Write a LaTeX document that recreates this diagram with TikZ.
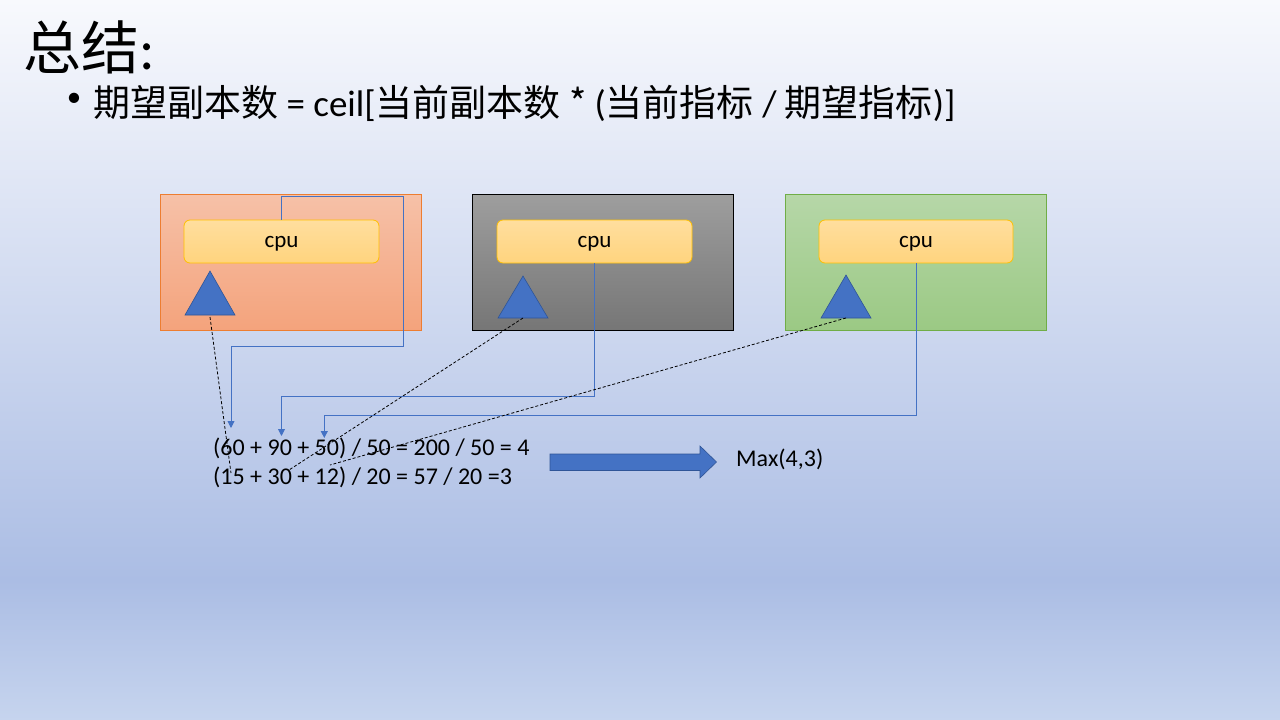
\documentclass[tikz,border=0pt]{standalone}
\usepackage{fontspec}
\setmainfont{Carlito}
\newfontfamily\cjk{Noto Sans CJK SC}
\usetikzlibrary{arrows.meta}
\definecolor{bgtop}{RGB}{248,249,253}
\definecolor{bgblue}{RGB}{171,189,228}
\definecolor{bgbot}{RGB}{198,212,238}
\definecolor{orTop}{RGB}{246,193,168}
\definecolor{orBot}{RGB}{244,163,124}
\definecolor{orLine}{RGB}{237,125,49}
\definecolor{grTop}{RGB}{158,158,158}
\definecolor{grBot}{RGB}{118,118,118}
\definecolor{gnTop}{RGB}{182,215,168}
\definecolor{gnBot}{RGB}{155,201,132}
\definecolor{gnLine}{RGB}{112,173,71}
\definecolor{cpuTop}{RGB}{255,222,158}
\definecolor{cpuBot}{RGB}{255,212,126}
\definecolor{cpuLine}{RGB}{255,192,0}
\definecolor{accent}{RGB}{68,114,196}
\definecolor{accentDark}{RGB}{47,85,151}
\pgfdeclareverticalshading{bgshade}{100bp}{color(0bp)=(bgbot); color(25bp)=(bgbot); color(34.7bp)=(bgblue); color(75bp)=(bgtop); color(100bp)=(bgtop)}
\tikzset{
  podbox/.style={draw, line width=0.8pt, minimum width=261pt, minimum height=136pt, inner sep=0pt},
  cpubox/.style={draw=cpuLine, line width=0.8pt, rounded corners=6pt, top color=cpuTop, bottom color=cpuBot,
    minimum width=195pt, minimum height=43pt, inner sep=0pt, text depth=0pt, font=\fontsize{23pt}{28pt}\selectfont},
  tri/.style={fill=accent, draw=accentDark, line width=0.6pt},
  conn/.style={draw=accent, line width=0.9pt},
  connarrow/.style={conn, -{Triangle[width=7pt,length=7pt]}},
  dashline/.style={draw=black, line width=0.8pt, dash pattern=on 3pt off 2pt},
  formula/.style={anchor=base west, inner sep=0pt, font=\fontsize{24pt}{29pt}\selectfont}
}
\begin{document}
\begin{tikzpicture}[x=1pt,y=-1pt]
\useasboundingbox (0,0) rectangle (1280,720);
\shade[shading=bgshade] (0,0) rectangle (1280,720);

% title
\node[anchor=base west, inner sep=0pt, font=\fontsize{58pt}{64pt}\selectfont] (title) at (23,69) {{\cjk 总结}:};
\node[inner sep=0pt, font=\fontsize{29pt}{34pt}\selectfont] (bullet) at (74,100) {•};
\node[anchor=base west, inner sep=0pt, font=\fontsize{37pt}{44pt}\selectfont] (rule) at (93,116)
  {{\cjk 期望副本数} = ceil[{\cjk 当前副本数} {\cjk *} ({\cjk 当前指标} / {\cjk 期望指标})]};

% pod boxes
\node[podbox, draw=orLine, top color=orTop, bottom color=orBot] (pod1) at (290.5,262) {};
\node[podbox, draw=black, top color=grTop, bottom color=grBot] (pod2) at (603,262) {};
\node[podbox, draw=gnLine, top color=gnTop, bottom color=gnBot] (pod3) at (916,262) {};

% cpu boxes
\node[cpubox] (cpu1) at (281.5,241.5) {cpu};
\node[cpubox] (cpu2) at (594.5,241.5) {cpu};
\node[cpubox, minimum width=194pt] (cpu3) at (916,241.5) {cpu};

% triangles
\draw[tri] (185,315) -- (210,271) -- (235,315) -- cycle;
\draw[tri] (498,318) -- (523,276) -- (548,318) -- cycle;
\draw[tri] (821,318) -- (846,275) -- (871,318) -- cycle;
\coordinate (t1) at (210,317);
\coordinate (t2) at (523,318);
\coordinate (t3) at (846,318);

% formulas
\node[formula] (f1text) at (213,455) {(60 + 90 + 50) / 50 = 200 / 50 = 4};
\node[formula] (f2text) at (213,484) {(15 + 30 + 12) / 20 = 57 / 20 =3};
\node[anchor=base west, inner sep=0pt, font=\fontsize{24pt}{29pt}\selectfont] (maxtext) at (736,466) {Max(4,3)};

% block arrow
\draw[fill=accent, draw=accentDark, line width=0.6pt] (550,454) -- (700,454) -- (700,446) -- (716.5,462) -- (700,478) -- (700,470.5) -- (550,470.5) -- cycle;

% connectors
\coordinate (e1) at (231,428);
\coordinate (e2) at (281.5,436);
\coordinate (e3) at (324.3,438);
\draw[connarrow] (cpu1.north) |- (403,196) |- (231,346) -- (e1);
\draw[connarrow] (cpu2.south) -- ++(0,133) -| (e2);
\draw[connarrow] (cpu3.south) -- ++(0,152) -| (e3);

% dashed lines
\coordinate (d1) at (231,473);
\coordinate (d2) at (289,470);
\coordinate (d3) at (330,465);
\draw[dashline] (t1) -- (d1);
\draw[dashline] (t2) -- (d2);
\draw[dashline] (t3) -- (d3);
\end{tikzpicture}
\end{document}
